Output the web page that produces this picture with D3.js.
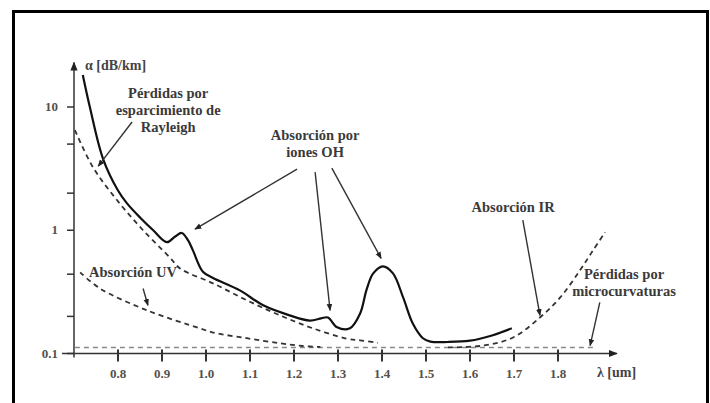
<!DOCTYPE html>
<html>
<head>
<meta charset="utf-8">
<script src="https://cdn.jsdelivr.net/npm/d3@7/dist/d3.min.js"></script>
<style>
  body { margin: 0; background: #fff; }
  text { font-family: "Liberation Serif", "DejaVu Serif", serif; }
</style>
</head>
<body>
<svg id="chart" width="710" height="403"></svg>
<script>
// ---- data (wavelength in um, attenuation in dB/km) ----
const totalLambda = [0.72, 0.736, 0.766, 0.80, 0.82, 0.85, 0.88, 0.911, 0.93, 0.945, 0.959, 0.97, 0.993, 1.016, 1.077, 1.13, 1.19, 1.236, 1.262, 1.277, 1.298, 1.327, 1.35, 1.365, 1.38, 1.402, 1.425, 1.448, 1.47, 1.493, 1.51, 1.55, 1.6, 1.65, 1.695];
const totalAlpha  = [18.2, 10, 3.8, 2.1, 1.66, 1.27, 1.0, 0.80, 0.89, 0.95, 0.83, 0.69, 0.46, 0.41, 0.325, 0.246, 0.204, 0.185, 0.193, 0.196, 0.163, 0.160, 0.21, 0.33, 0.447, 0.51, 0.447, 0.285, 0.175, 0.133, 0.125, 0.124, 0.127, 0.14, 0.16];

const rayleighLambda = [0.702, 0.743, 0.798, 0.857, 0.918, 0.941, 1.016, 1.093, 1.168, 1.243, 1.32, 1.35, 1.39];
const rayleighAlpha  = [6.5, 3.25, 1.75, 1.0, 0.60, 0.49, 0.371, 0.27, 0.204, 0.16, 0.132, 0.128, 0.122];

const uvLambda = [0.714, 0.759, 0.866, 0.986, 1.016, 1.093, 1.168, 1.22, 1.26];
const uvAlpha  = [0.456, 0.337, 0.224, 0.16, 0.148, 0.133, 0.121, 0.115, 0.113];

const irLambda = [1.55, 1.63, 1.698, 1.759, 1.805, 1.85, 1.88, 1.907];
const irAlpha  = [0.112, 0.116, 0.135, 0.196, 0.285, 0.473, 0.69, 0.963];

const bendLambda = [0.702, 1.88];
const bendAlpha  = [0.112, 0.112];

const xTicks = [0.8, 0.9, 1.0, 1.1, 1.2, 1.3, 1.4, 1.5, 1.6, 1.7, 1.8];
const yTicks = [10, 1, 0.1];
const yMinorTicks = [5, 2, 0.44, 0.2];

// annotations: text lines, anchor (lambda, alpha) of first line
const noteLines  = [["Pérdidas por", "esparcimiento de", "Rayleigh"], ["Absorción por", "iones OH"], ["Absorción IR"], ["Pérdidas por", "microcurvaturas"], ["Absorción UV"]];
const noteLambda = [0.914, 1.248, 1.698, 1.95, 0.834];
const noteAlpha  = [12.7, 5.82, 1.52, 0.434, 0.45];

// arrows: [fromLambda, fromAlpha, toLambda, toAlpha]
const arrows = [
  [0.832, 7.55, 0.755, 3.31],
  [1.207, 3.13, 0.975, 1.02],
  [1.248, 2.96, 1.282, 0.224],
  [1.286, 3.19, 1.398, 0.592],
  [1.72, 1.21, 1.759, 0.204],
  [1.895, 0.26, 1.873, 0.116],
  [0.857, 0.337, 0.868, 0.246]
];

// ---- scales ----
const svg = d3.select("#chart");
const x = d3.scaleLinear().domain([0.7, 1.9]).range([74, 602]);
const y = d3.scaleLog().domain([0.1, 10]).range([353.5, 107]);
const xEnd = 1.934, yTop = 23;

// frame
svg.append("rect")
  .attr("x", 13.5).attr("y", 11.5)
  .attr("width", 694).attr("height", 430)
  .attr("fill", "none").attr("stroke", "#000").attr("stroke-width", 3);

const defs = svg.append("defs");
defs.append("marker").attr("id", "head")
  .attr("viewBox", "0 0 10 10").attr("refX", 9).attr("refY", 5)
  .attr("markerWidth", 5).attr("markerHeight", 5).attr("orient", "auto")
  .append("path").attr("d", "M0,1L10,5L0,9Z").attr("fill", "#222");
defs.append("marker").attr("id", "axhead")
  .attr("viewBox", "0 0 10 10").attr("refX", 9).attr("refY", 5)
  .attr("markerWidth", 6).attr("markerHeight", 6).attr("orient", "auto")
  .append("path").attr("d", "M0,1L10,5L0,9Z").attr("fill", "#222");

// ---- axes ----
const axisG = svg.append("g").attr("stroke", "#333").attr("stroke-width", 1.5);
axisG.append("line")
  .attr("x1", x(0.7)).attr("x2", x(0.7))
  .attr("y1", y(0.1) + 4).attr("y2", y(yTop))
  .attr("marker-end", "url(#axhead)");
axisG.append("line")
  .attr("x1", x(0.7) - 12).attr("x2", x(xEnd))
  .attr("y1", y(0.1)).attr("y2", y(0.1))
  .attr("marker-end", "url(#axhead)");

axisG.selectAll(".xt").data(xTicks).enter().append("line")
  .attr("x1", d => x(d)).attr("x2", d => x(d))
  .attr("y1", y(0.1) - 4).attr("y2", y(0.1) + 8)
  .attr("stroke-width", 2);

axisG.selectAll(".yt").data(yTicks.concat(yMinorTicks)).enter().append("line")
  .attr("x1", x(0.7) - 7).attr("x2", x(0.7))
  .attr("y1", d => y(d)).attr("y2", d => y(d));

svg.selectAll(".xl").data(xTicks).enter().append("text")
  .attr("x", d => x(d)).attr("y", y(0.1) + 24)
  .attr("text-anchor", "middle").attr("font-size", 13).attr("font-weight", "bold")
  .attr("fill", "#55504a").text(d => d3.format(".1f")(d));

svg.selectAll(".yl").data(yTicks).enter().append("text")
  .attr("x", x(0.7) - 16).attr("y", d => y(d) + 4)
  .attr("text-anchor", "end").attr("font-size", 13).attr("font-weight", "bold")
  .attr("fill", "#55504a").text(d => d);

svg.append("text")
  .attr("x", x(0.7) + 11).attr("y", y(yTop) + 8)
  .attr("font-size", 14).attr("font-weight", "bold").attr("fill", "#444")
  .text("α [dB/km]");
svg.append("text")
  .attr("x", x(xEnd) - 20).attr("y", y(0.1) + 23)
  .attr("font-size", 14).attr("font-weight", "bold").attr("fill", "#444")
  .text("λ [um]");

// ---- curves ----
const line = d3.line().x(d => x(d[0])).y(d => y(d[1])).curve(d3.curveCatmullRom.alpha(0.5));
const zip = (a, b) => a.map((v, i) => [v, b[i]]);

svg.append("path").datum(zip(bendLambda, bendAlpha))
  .attr("d", line).attr("fill", "none")
  .attr("stroke", "#888").attr("stroke-width", 1.6).attr("stroke-dasharray", "5,4");

[[uvLambda, uvAlpha], [rayleighLambda, rayleighAlpha], [irLambda, irAlpha]].forEach(s => {
  svg.append("path").datum(zip(s[0], s[1]))
    .attr("d", line).attr("fill", "none")
    .attr("stroke", "#333").attr("stroke-width", 1.8).attr("stroke-dasharray", "5,4");
});

svg.append("path").datum(zip(totalLambda, totalAlpha))
  .attr("d", line).attr("fill", "none")
  .attr("stroke", "#111").attr("stroke-width", 2.2);

// ---- annotations ----
svg.selectAll(".arr").data(arrows).enter().append("line")
  .attr("x1", d => x(d[0])).attr("y1", d => y(d[1]))
  .attr("x2", d => x(d[2])).attr("y2", d => y(d[3]))
  .attr("stroke", "#333").attr("stroke-width", 1.4)
  .attr("marker-end", "url(#head)");

noteLines.forEach((lines, i) => {
  const t = svg.append("text")
    .attr("text-anchor", "middle").attr("font-size", 14.5).attr("font-weight", "bold")
    .attr("fill", "#3a3a3a");
  lines.forEach((s, j) => {
    t.append("tspan")
      .attr("x", x(noteLambda[i]))
      .attr("y", y(noteAlpha[i]) + 4 + j * 17)
      .text(s);
  });
});
</script>
</body>
</html>
